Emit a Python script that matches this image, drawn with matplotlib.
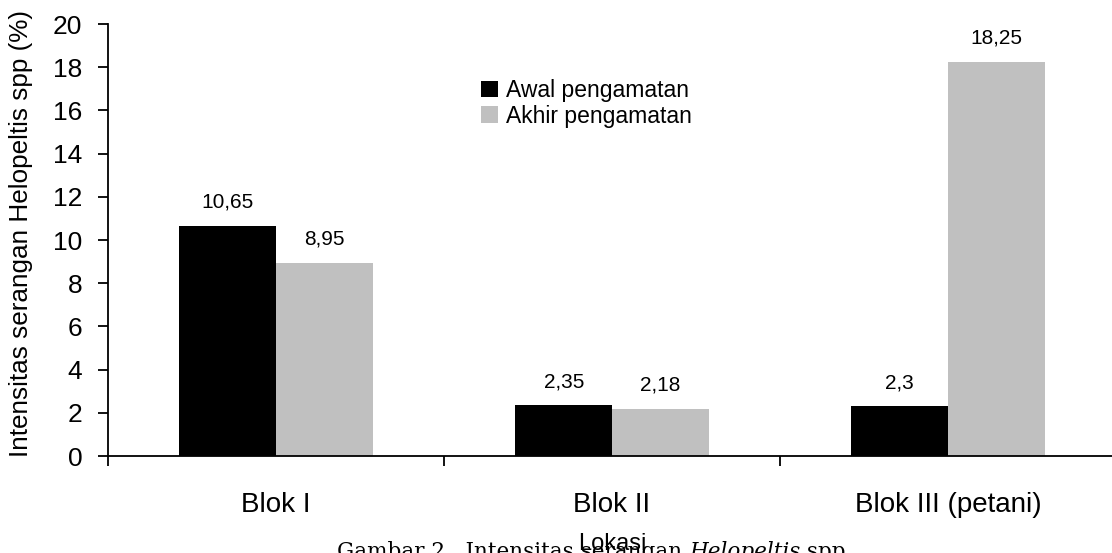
import numpy as np
import matplotlib
matplotlib.use('Agg')
import matplotlib.pyplot as plt

plt.rcParams['font.family'] = ['Liberation Sans', 'DejaVu Sans']

# Intensitas serangan Helopeltis spp per blok
lokasi = ['Blok I', 'Blok II', 'Blok III (petani)']
awal = [10.65, 2.35, 2.3]
akhir = [8.95, 2.18, 18.25]
label_awal = ['10,65', '2,35', '2,3']
label_akhir = ['8,95', '2,18', '18,25']

fig = plt.figure(figsize=(11.12, 5.53), dpi=100)
ax = fig.add_axes([108 / 1112, 97 / 553, 1008 / 1112, 432 / 553])

x = np.arange(len(lokasi))
w = 0.2875
b1 = ax.bar(x - w / 2, awal, w, color='black', label='Awal pengamatan', zorder=2)
b2 = ax.bar(x + w / 2, akhir, w, color='#c0c0c0', label='Akhir pengamatan', zorder=2)

for bars, labels in [(b1, label_awal), (b2, label_akhir)]:
    for rect, txt in zip(bars, labels):
        ax.annotate(txt, (rect.get_x() + rect.get_width() / 2, rect.get_height()),
                    xytext=(0, 13), textcoords='offset points',
                    ha='center', va='baseline', fontsize=15)

ax.set_xlim(-0.5, 2.5)
ax.set_ylim(0, 20)
ax.set_yticks(np.arange(0, 21, 2))
ax.set_xticks(x)
ax.set_xticklabels(lokasi)
ax.set_xticks([-0.5, 0.5, 1.5, 2.5], minor=True)
ax.tick_params(axis='x', which='major', length=0, pad=26, labelsize=20)
ax.tick_params(axis='x', which='minor', length=7.5, width=1.3)
ax.tick_params(axis='y', length=7.5, width=1.3, pad=11, labelsize=19)

for side in ['top', 'right']:
    ax.spines[side].set_visible(False)
for side in ['left', 'bottom']:
    ax.spines[side].set_linewidth(1.3)

ax.set_ylabel('Intensitas serangan Helopeltis spp (%)', fontsize=18.8)
ax.yaxis.set_label_coords(-0.074, 0.515)
ax.set_xlabel('Lokasi', fontsize=17, zorder=5)
ax.xaxis.set_label_coords(0.5, -0.178)

leg = ax.legend(loc='upper left', bbox_to_anchor=(481 / 1112, 1 - 79 / 553),
                bbox_transform=fig.transFigure, frameon=False, fontsize=16.5,
                handlelength=0.75, handleheight=0.75, handletextpad=0.35,
                labelspacing=0.12, borderaxespad=0, borderpad=0)

# figure caption at the bottom, partly below the edge
fig.canvas.draw()
r = fig.canvas.get_renderer()
cap_y = -5 / 553
t1 = fig.text(337 / 1112, cap_y, 'Gambar 2.  Intensitas serangan ', family='DejaVu Serif',
              fontsize=15.5, va='baseline', zorder=1)
bb = t1.get_window_extent(r)
t2 = fig.text(bb.x1 / 1112, cap_y, 'Helopeltis', family='DejaVu Serif', style='italic',
              fontsize=15.5, va='baseline', zorder=1)
bb = t2.get_window_extent(r)
fig.text(bb.x1 / 1112, cap_y, ' spp.', family='DejaVu Serif',
         fontsize=15.5, va='baseline', zorder=1)

fig.savefig('out.png', dpi=100)
